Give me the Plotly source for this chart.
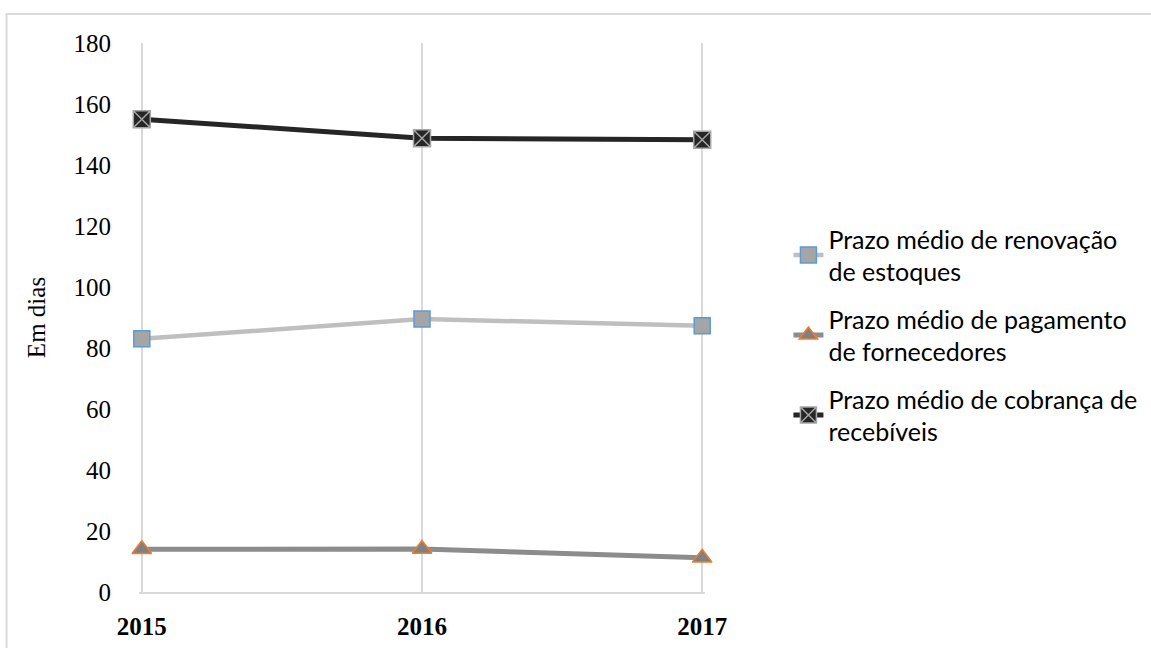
import plotly.graph_objects as go

# Anos e prazos médios (em dias)
anos = ["2015", "2016", "2017"]
renovacao_estoques = [83.0, 89.5, 87.3]
pagamento_fornecedores = [14.0, 14.1, 11.2]
cobranca_recebiveis = [155.0, 148.8, 148.3]

nomes = [
    "Prazo médio de renovação<br>de estoques",
    "Prazo médio de pagamento<br>de fornecedores",
    "Prazo médio de cobrança de<br>recebíveis",
]

fig = go.Figure()

fig.add_trace(go.Scatter(
    x=anos, y=renovacao_estoques, name=nomes[0], mode="lines+markers",
    legendgroup="a",
    line=dict(color="#bfbfbf", width=4.5),
    marker=dict(symbol="square", size=16, color="#a5a5a5",
                line=dict(color="#5b9bd5", width=1.5)),
    cliponaxis=False,
))
fig.add_trace(go.Scatter(
    x=anos, y=pagamento_fornecedores, name=nomes[1], mode="lines+markers",
    legendgroup="b",
    line=dict(color="#8c8c8c", width=5),
    marker=dict(symbol="triangle-up", size=17, color="#808080",
                line=dict(color="#ed7d31", width=1.5)),
    cliponaxis=False,
))
fig.add_trace(go.Scatter(
    x=anos, y=cobranca_recebiveis, name=nomes[2], mode="lines+markers",
    legendgroup="c",
    line=dict(color="#262626", width=5),
    marker=dict(symbol="square-x", size=17, color="#262626",
                line=dict(color="#a6a6a6", width=1.5)),
    cliponaxis=False,
))

# moldura externa do gráfico
fig.add_shape(type="rect", xref="paper", yref="paper",
              x0=-0.234, x1=1.81, y0=-0.3, y1=1.0528,
              line=dict(color="#d9d9d9", width=2), fillcolor="rgba(0,0,0,0)",
              layer="below")

fig.update_layout(
    width=1151, height=648,
    margin=dict(l=139, r=446, t=43, b=56),
    paper_bgcolor="white", plot_bgcolor="white",
    showlegend=True,
    legend=dict(
        xref="container", yref="container",
        x=0.685, y=0.483, xanchor="left", yanchor="middle",
        font=dict(family="Lato", size=25, color="#000000"),
        tracegroupgap=12,
        bgcolor="rgba(0,0,0,0)",
    ),
    xaxis=dict(
        type="category", range=[-0.01, 2.01], automargin=False,
        showgrid=True, gridcolor="#d9d9d9", gridwidth=2,
        showline=True, linecolor="#d9d9d9", linewidth=2,
        ticks="outside", ticklen=11, tickcolor="rgba(0,0,0,0)",
        tickfont=dict(family="Liberation Serif", size=25, color="#000000",
                      weight="bold"),
        zeroline=False,
    ),
    yaxis=dict(
        range=[0, 180], dtick=20, automargin=False,
        showgrid=False, showline=False, zeroline=False,
        ticks="outside", ticklen=22, tickcolor="rgba(0,0,0,0)",
        tickfont=dict(family="Liberation Serif", size=25, color="#000000"),
        title=dict(text="Em dias", standoff=20,
                   font=dict(family="Liberation Serif", size=25, color="#000000")),
    ),
)

fig.write_html("out.html")
